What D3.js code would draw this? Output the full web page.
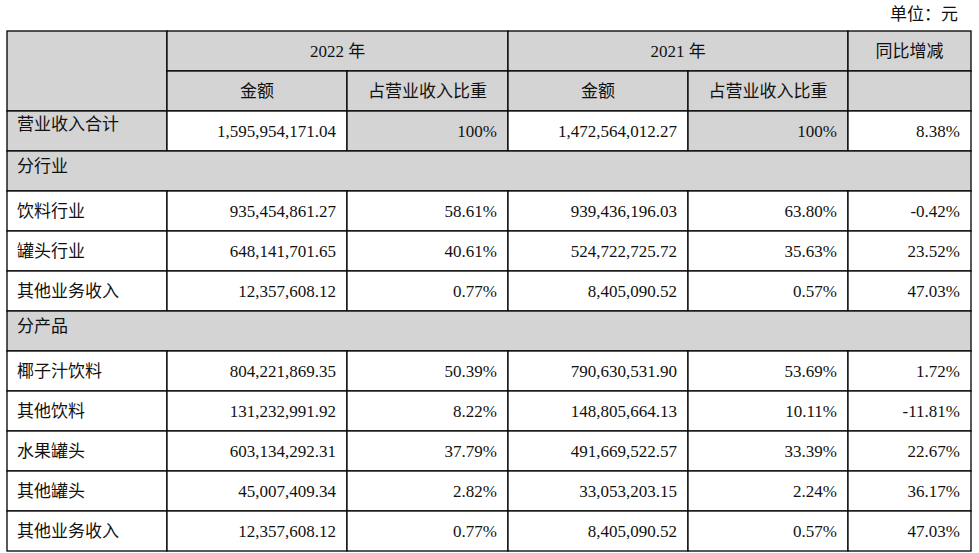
<!DOCTYPE html><html><head><meta charset="utf-8"><script src="https://cdn.jsdelivr.net/npm/d3@7"></script>
<style>body{margin:0;background:#fff}</style></head><body><svg id="c" width="979" height="553"></svg>
<script>
const unitLabel = "单位：元";
const headerYears = ["2022 年", "2021 年", "同比增减"];
const headerSub = ["金额", "占营业收入比重", "金额", "占营业收入比重"];
const rowLabels = ["营业收入合计","分行业","饮料行业","罐头行业","其他业务收入","分产品","椰子汁饮料","其他饮料","水果罐头","其他罐头","其他业务收入"];
const amount2022 = ["1,595,954,171.04",null,"935,454,861.27","648,141,701.65","12,357,608.12",null,"804,221,869.35","131,232,991.92","603,134,292.31","45,007,409.34","12,357,608.12"];
const share2022 = ["100%",null,"58.61%","40.61%","0.77%",null,"50.39%","8.22%","37.79%","2.82%","0.77%"];
const amount2021 = ["1,472,564,012.27",null,"939,436,196.03","524,722,725.72","8,405,090.52",null,"790,630,531.90","148,805,664.13","491,669,522.57","33,053,203.15","8,405,090.52"];
const share2021 = ["100%",null,"63.80%","35.63%","0.57%",null,"53.69%","10.11%","33.39%","2.24%","0.57%"];
const yoy = ["8.38%",null,"-0.42%","23.52%","47.03%",null,"1.72%","-11.81%","22.67%","36.17%","47.03%"];

const svg = d3.select("#c");
const font = "'Liberation Serif','Noto Sans CJK SC',serif";
const gray = "#d4d4d4";
const colEdges = [7,167,347,508,688,848,971];
const x = i => colEdges[i];
const yRow = d3.scaleLinear().domain([0,13]).range([31,551]);
const g = svg.append("g");
function rect(x0,y0,x1,y1,fill){g.append("rect").attr("x",x0).attr("y",y0).attr("width",x1-x0).attr("height",y1-y0).attr("fill",fill).attr("stroke","#000").attr("stroke-width",1.3);}
function text(t,xx,yy,anchor){g.append("text").attr("x",xx).attr("y",yy).attr("text-anchor",anchor).attr("font-family",font).attr("font-size",17).attr("fill","#111").text(t);}

svg.append("text").attr("x",958).attr("y",20).attr("text-anchor","end").attr("font-family",font).attr("font-size",17).attr("fill","#111").text(unitLabel);

// header
rect(x(0),yRow(0),x(1),yRow(2),gray);
rect(x(1),yRow(0),x(3),yRow(1),gray);
rect(x(3),yRow(0),x(5),yRow(1),gray);
rect(x(5),yRow(0),x(6),yRow(1),gray);
for(let c=1;c<=5;c++) rect(x(c),yRow(1),x(c+1),yRow(2),gray);
text(headerYears[0],(x(1)+x(3))/2,yRow(0)+26,"middle");
text(headerYears[1],(x(3)+x(5))/2,yRow(0)+26,"middle");
text(headerYears[2],(x(5)+x(6))/2,yRow(0)+26,"middle");
headerSub.forEach((t,i)=>text(t,(x(i+1)+x(i+2))/2,yRow(1)+26,"middle"));

const cols=[amount2022,share2022,amount2021,share2021,yoy];
rowLabels.forEach((lab,r)=>{
  const y0=yRow(r+2),y1=yRow(r+3);
  if(amount2022[r]===null){
    rect(x(0),y0,x(6),y1,gray);
    text(lab,x(0)+10,y0+21,"start");
    return;
  }
  const first = r===0;
  rect(x(0),y0,x(1),y1,first?gray:"#fff");
  cols.forEach((arr,c)=>{
    const fill = first && (c===1||c===3) ? gray : "#fff";
    rect(x(c+1),y0,x(c+2),y1,fill);
    text(arr[r],x(c+2)-11,y0+26,"end");
  });
  text(lab,x(0)+10,first?y0+19:y0+26,"start");
});
</script></body></html>
